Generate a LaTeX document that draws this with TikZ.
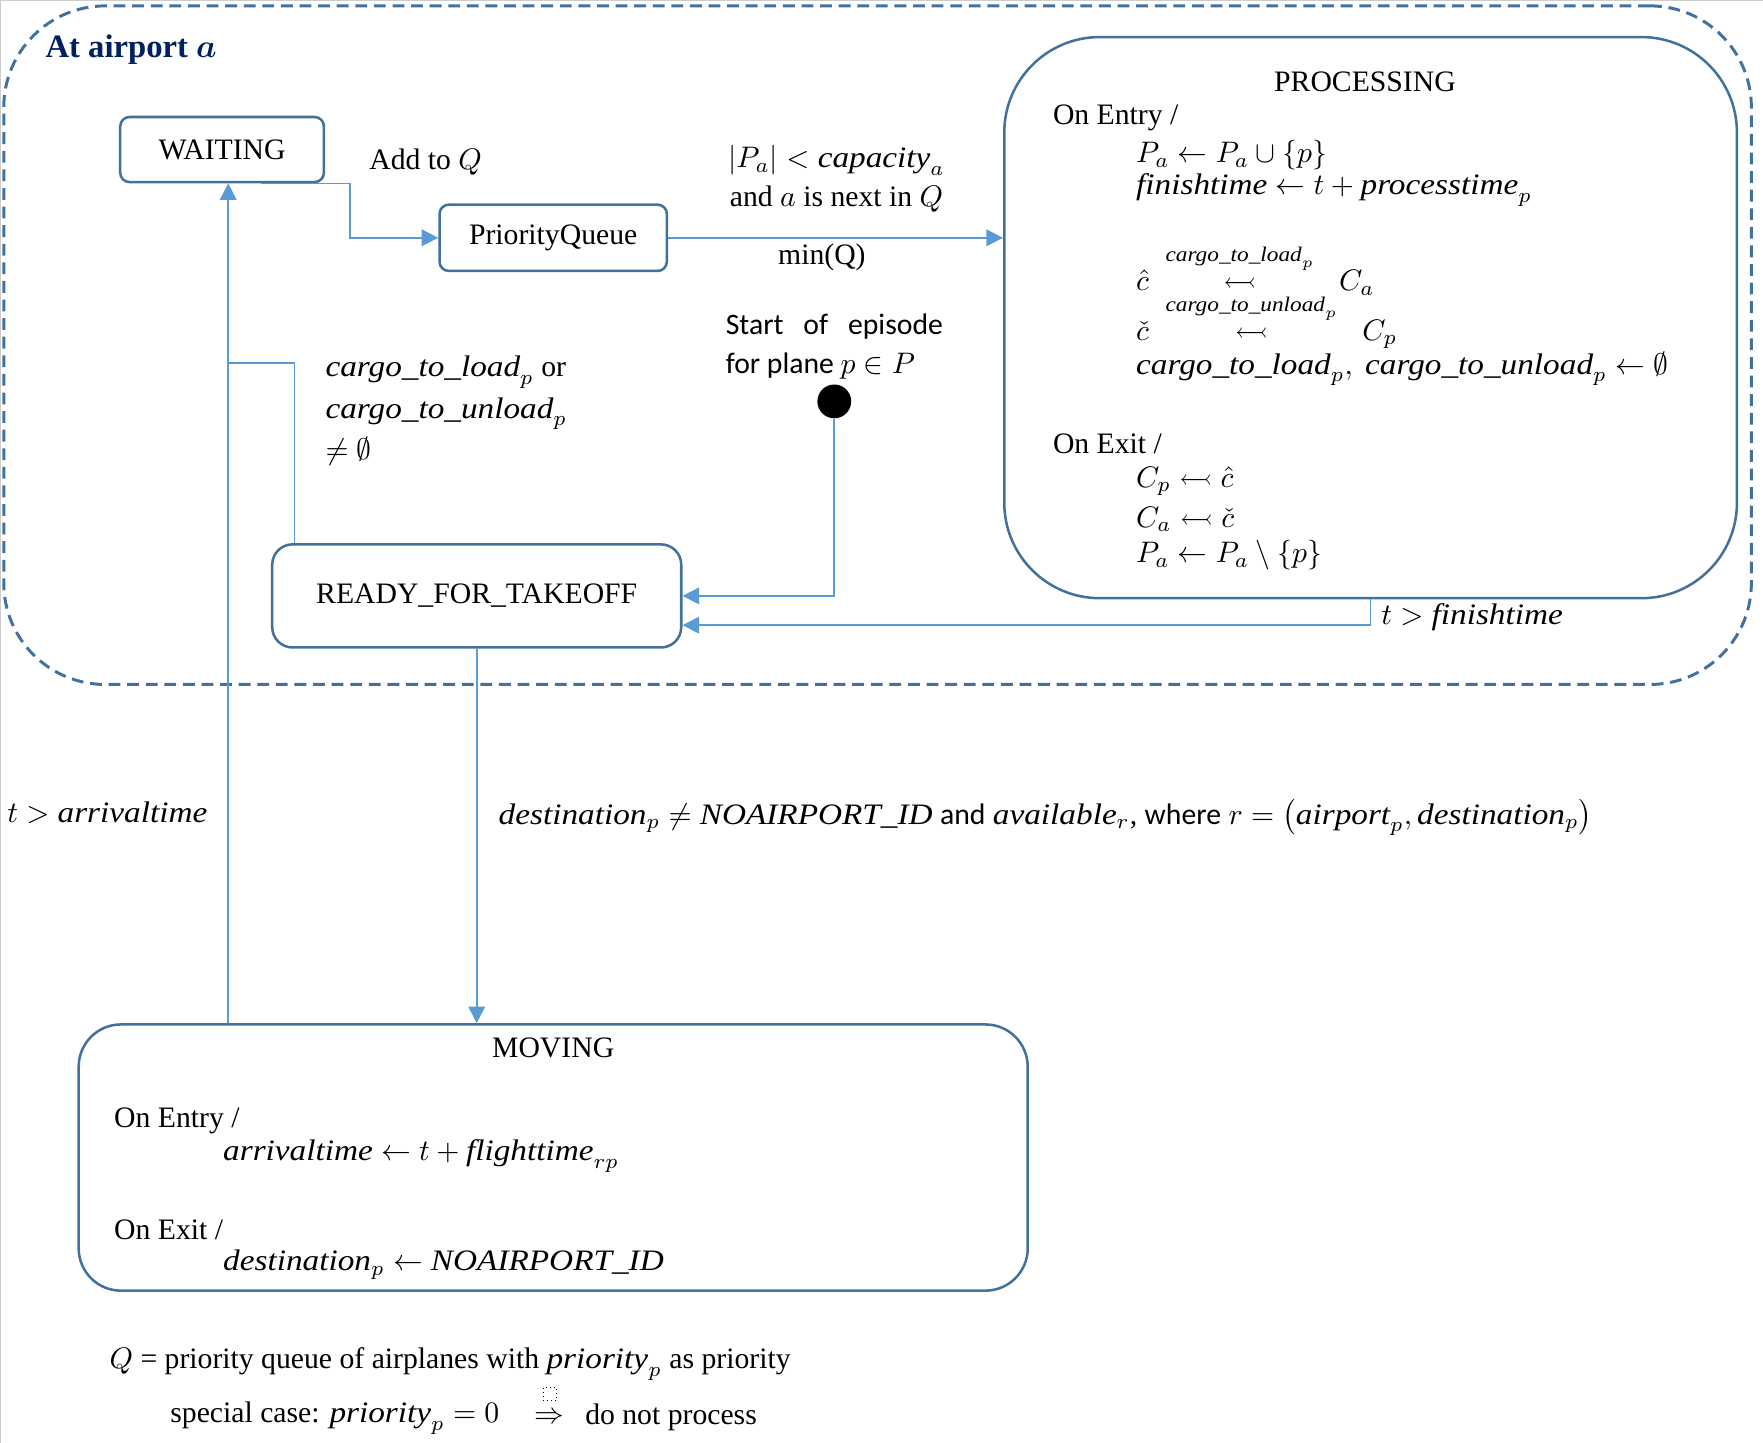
\documentclass[tikz,border=0pt]{standalone}
\usepackage{amsmath,amssymb}
\usepackage{fontspec}
\setmainfont{Liberation Serif}
\newfontfamily\calibri{Carlito}
\newfontfamily\varfont[FakeStretch=1.12]{Liberation Serif}
\usepackage{xcolor}
\definecolor{boxBlue}{HTML}{41719C}
\definecolor{lineBlue}{HTML}{5B9BD5}
\definecolor{titleNavy}{HTML}{002060}
\usetikzlibrary{arrows.meta,calc}
\newcommand{\var}[1]{\text{\varfont\itshape #1}}
\newcommand{\overtail}[1]{\overset{\raisebox{2.5pt}{$\scriptstyle #1$}}{\leftarrowtail}}

\begin{document}
\begin{tikzpicture}[x=0.0133cm, y=-0.0133cm,
  state/.style={draw=boxBlue, line width=0.85pt, inner sep=0pt},
  flow/.style={draw=lineBlue, line width=0.55pt},
  tip/.style={-{Triangle[length=5.6pt,width=5.6pt]}},
  txt/.style={anchor=west, inner sep=0pt}]
  \useasboundingbox (0,0) rectangle (1568,1283);
  % page edge
  \draw[black!20, line width=0.6pt] (0.5,1283) -- (0.5,0.5) -- (1568,0.5);
  % airport frame
  \node[draw=boxBlue, line width=1pt, dash pattern=on 0.14cm off 0.08cm,
        rounded corners=1.2cm, minimum width=20.68cm, minimum height=8.03cm]
        (airport) at (780.5,307) {};
  \node[txt, text=titleNavy, font=\fontsize{11}{13}\selectfont\bfseries]
        (airporttitle) at (40,44) {At airport $\boldsymbol{a}$};
  % states
  \node[state, rounded corners=0.11cm, minimum width=2.41cm, minimum height=0.77cm]
        (waiting) at (197.5,133) {WAITING\hspace{0.25cm}};
  \node[state, rounded corners=0.11cm, minimum width=2.69cm, minimum height=0.785cm]
        (pq) at (492,211.5) {PriorityQueue};
  \node[state, rounded corners=0.24cm, minimum width=4.84cm, minimum height=1.22cm]
        (ready) at (424,530) {READY\_FOR\_TAKEOFF};
  \node[state, rounded corners=1.13cm, minimum width=8.67cm, minimum height=6.64cm]
        (proc) at (1219,282.5) {};
  \node[state, rounded corners=0.5cm, minimum width=11.23cm, minimum height=3.15cm]
        (moving) at (492,1029.5) {};
  \node[circle, fill=black, inner sep=0pt, minimum size=0.4cm] (start) at (742,357) {};
  % PROCESSING contents
  \node (proctitle) at (1214,73) {PROCESSING};
  \node[txt] (procentry) at (936,105) {On Entry /};
  \node[txt] (procin1) at (1010,138) {$P_a \leftarrow P_a \cup \{p\}$};
  \node[txt] (procin2) at (1010,169) {$\var{finishtime} \leftarrow t + \var{processtime}_p$};
  \node[txt] (procin3) at (1010,240)
    {$\hat{c}\;\overtail{\var{cargo\_to\_load}_p}\;\; C_a$};
  \node[txt] (procin4) at (1010,286)
    {$\check{c}\;\overtail{\var{cargo\_to\_unload}_p}\;\; C_p$};
  \node[txt] (procin5) at (1010,328)
    {$\var{cargo\_to\_load}_p,\ \var{cargo\_to\_unload}_p \leftarrow \emptyset$};
  \node[txt] (procexit) at (936,395) {On Exit /};
  \node[txt] (procout1) at (1010,428) {$C_p \mathrel{\leftarrowtail} \hat{c}$};
  \node[txt] (procout2) at (1010,462) {$C_a \mathrel{\leftarrowtail} \check{c}$};
  \node[txt] (procout3) at (1010,494) {$P_a \leftarrow P_a \setminus \{p\}$};
  % MOVING contents
  \node (movtitle) at (492,932) {MOVING};
  \node[txt] (moventry) at (101,997) {On Entry /};
  \node[txt] (movin1) at (198,1028) {$\var{arrivaltime} \leftarrow t + \var{flighttime}_{rp}$};
  \node[txt] (movexit) at (101,1094) {On Exit /};
  \node[txt] (movout1) at (198,1125) {$\var{destination}_p \leftarrow \var{NOAIRPORT\_ID}$};
  % connectors
  \coordinate (waitin) at ($(waiting.south)+(5.5,0)$);
  \coordinate (join) at (waitin |- 0,323);
  \draw[flow, tip] ($(waiting.south)+(35,0)$) -- ++(79,0) |- (pq.west);
  \draw[flow, tip] (pq.east) -- (pq.east -| proc.west);
  \draw[flow, tip] (proc.south) |- ($(ready.east)+(0,26)$);
  \draw[flow, tip] (start.south) |- (ready.east);
  \draw[flow] ($(ready.north west)+(21,0)$) |- (join);
  \draw[flow, tip] (moving.north -| waitin) -- (waitin);
  \draw[flow, tip] (ready.south) -- (ready.south |- moving.north);
  % connector labels
  \node[txt] (addq) at (328,144) {Add to $Q$};
  \node[align=center, inner sep=0pt] (capacity) at (744,159)
    {$|P_a| < \var{capacity}_a$\\[1pt]and $a$ is next in $Q$};
  \node (minq) at (731,229) {min(Q)};
  \node[txt, align=left, font=\calibri] (startlbl) at (645,308)
    {\makebox[2.57cm][s]{Start\hfill of\hfill episode}\\[1pt]for plane $p \in P$};
  \node[txt, align=left, anchor=north west] (cargolbl) at (289,316)
    {$\var{cargo\_to\_load}_p$ or\\[2pt]$\var{cargo\_to\_unload}_p$\\[2pt]$\neq \emptyset$};
  \node[txt] (finishlbl) at (1228,549) {$t > \var{finishtime}$};
  \node[txt] (arrivallbl) at (6,723) {$t > \var{arrivaltime}$};
  \node[txt] (destlbl) at (443,727)
    {$\var{destination}_p \neq \var{NOAIRPORT\_ID}$ {\calibri and} $\var{available}_r$,
     {\calibri where} $r = \bigl(\var{airport}_p, \var{destination}_p\bigr)$};
  % notes below
  \node[txt] (note1) at (97,1213)
    {$Q$ = priority queue of airplanes with $\var{priority}_p$ as priority};
  \node[txt] (note2) at (151,1261) {special case: $\var{priority}_p = 0$};
  \node[inner sep=0pt] (implies) at (489,1261) {$\Rightarrow$};
  \node[txt] (note3) at (520,1261) {do not process};
  \node[draw, densely dotted, line width=0.3pt, inner sep=0pt, minimum size=0.15cm]
        (placeholder) at (489,1240) {};
\end{tikzpicture}
\end{document}
